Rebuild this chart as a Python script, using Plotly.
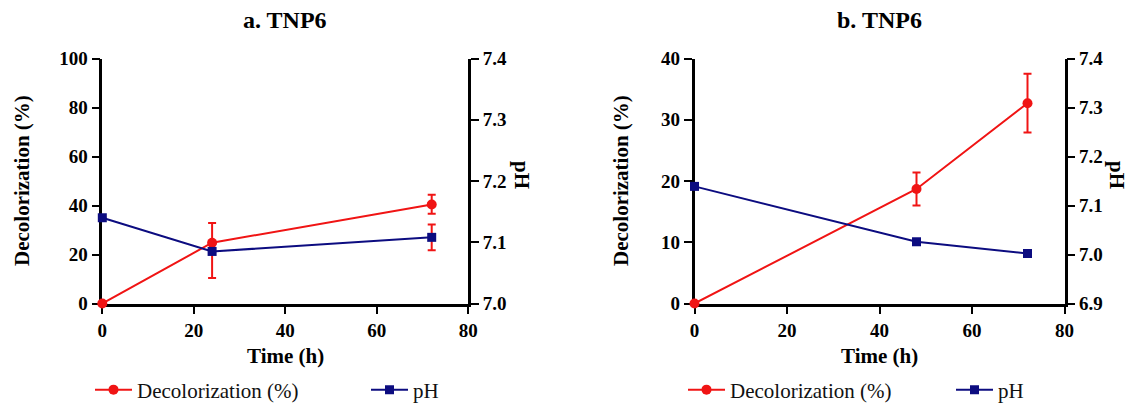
import plotly.graph_objects as go

# ---------------- data ----------------
time_a = [0, 24, 72]
decol_a = [0, 24.8, 40.4]
decol_a_err_plus = [0, 8.1, 4.0]
decol_a_err_minus = [0, 14.4, 3.8]
ph_a = [7.140, 7.085, 7.108]
ph_a_err = [0, 0, 0.021]

time_b = [0, 48, 72]
decol_b = [0, 18.7, 32.7]
decol_b_err = [0, 2.7, 4.8]
ph_b = [7.139, 7.026, 7.002]

x_ticks = [0, 20, 40, 60, 80]
series_names = ["Decolorization (%)", "pH"]
panel_titles = ["a. TNP6", "b. TNP6"]

RED = "#f01414"
NAVY = "#0c0c80"
FONT = "Liberation Serif, Times New Roman, serif"
W, H = 1138, 403

fig = go.Figure()

# Panel a
fig.add_trace(go.Scatter(
    x=time_a, y=decol_a, name=series_names[0], mode="lines+markers",
    line=dict(color=RED, width=2), marker=dict(symbol="circle", size=10, color=RED),
    error_y=dict(type="data", symmetric=False, array=decol_a_err_plus,
                 arrayminus=decol_a_err_minus, color=RED, thickness=2, width=4),
    xaxis="x", yaxis="y", cliponaxis=False, legend="legend"))
fig.add_trace(go.Scatter(
    x=time_a, y=ph_a, name=series_names[1], mode="lines+markers",
    line=dict(color=NAVY, width=2), marker=dict(symbol="square", size=9, color=NAVY),
    error_y=dict(type="data", array=ph_a_err, color=RED, thickness=2, width=4),
    xaxis="x", yaxis="y2", cliponaxis=False, legend="legend2"))

# Panel b
fig.add_trace(go.Scatter(
    x=time_b, y=decol_b, name=series_names[0], mode="lines+markers",
    line=dict(color=RED, width=2), marker=dict(symbol="circle", size=10, color=RED),
    error_y=dict(type="data", array=decol_b_err, color=RED, thickness=2, width=4),
    xaxis="x2", yaxis="y3", cliponaxis=False, legend="legend3"))
fig.add_trace(go.Scatter(
    x=time_b, y=ph_b, name=series_names[1], mode="lines+markers",
    line=dict(color=NAVY, width=2), marker=dict(symbol="square", size=9, color=NAVY),
    xaxis="x2", yaxis="y4", cliponaxis=False, legend="legend4"))

tickfont = dict(family=FONT, size=19, color="black", weight="bold")
common = dict(showline=True, linewidth=2.5, linecolor="black", ticks="outside",
              ticklen=8, tickwidth=2, tickcolor="black", showgrid=False,
              zeroline=False, tickfont=tickfont, layer="below traces",
              fixedrange=True, automargin=False)

ydom = [1 - 303.5 / H, 1 - 58.5 / H]
xdom_a = [102.3 / W, 468.3 / W]
xdom_b = [694.5 / W, 1064.5 / W]

def leg(xpx):
    return dict(x=xpx / W, xanchor="left", y=1 - 390 / H, yanchor="middle",
                orientation="h", bgcolor="rgba(0,0,0,0)", itemwidth=37,
                font=dict(family=FONT, size=21, color="#111"))

fig.update_layout(
    template="none",
    width=W, height=H, margin=dict(l=0, r=0, t=0, b=0, autoexpand=False),
    paper_bgcolor="white", plot_bgcolor="white",
    font=dict(family=FONT, color="black"),
    xaxis=dict(domain=xdom_a, range=[0, 80], tickvals=x_ticks, anchor="y", **common),
    yaxis=dict(domain=ydom, range=[0, 100], dtick=20, anchor="x", **common),
    yaxis2=dict(range=[7.0, 7.4], dtick=0.1, tickformat=".1f", overlaying="y",
                side="right", anchor="x", **common),
    xaxis2=dict(domain=xdom_b, range=[0, 80], tickvals=x_ticks, anchor="y3", **common),
    yaxis3=dict(domain=ydom, range=[0, 40], dtick=10, anchor="x2", **common),
    yaxis4=dict(range=[6.9, 7.4], dtick=0.1, tickformat=".1f", overlaying="y3",
                side="right", anchor="x2", **common),
    legend=leg(90), legend2=leg(366), legend3=leg(683), legend4=leg(951),
    showlegend=True,
)

def ann(text, xpx, ypx, size=20, angle=0, bold=True):
    fig.add_annotation(text=text, x=xpx / W, y=1 - ypx / H, xref="paper", yref="paper",
                       showarrow=False, textangle=angle, xanchor="center", yanchor="middle",
                       font=dict(family=FONT, size=size, color="black",
                                 weight="bold" if bold else "normal"))

# titles
ann(panel_titles[0], 285.3, 20, size=24)
ann(panel_titles[1], 879.5, 20, size=24)
# x titles
ann("Time (h)", 285.3, 356, size=21)
ann("Time (h)", 879.5, 356, size=21)
# left y titles
ann("Decolorization (%)", 22, 181, size=21, angle=-90)
ann("Decolorization (%)", 621, 181, size=21, angle=-90)
# right y titles
ann("pH", 522, 175, size=21, angle=90)
ann("pH", 1117, 175, size=21, angle=90)

fig.write_html("out.html")
